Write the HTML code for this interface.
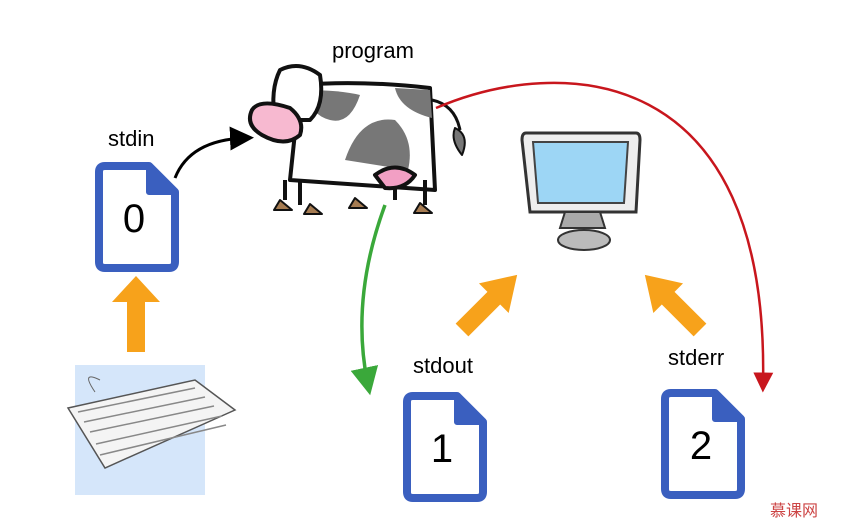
<!DOCTYPE html>
<html><head><style>
body{margin:0;background:#fff;}
svg{display:block;}
text{font-family:"Liberation Sans",sans-serif;}
</style></head><body>
<svg width="847" height="526" viewBox="0 0 847 526" xmlns="http://www.w3.org/2000/svg">
<defs>
<marker id="ab" markerWidth="8" markerHeight="8" refX="5" refY="4" orient="auto"><path d="M0,0 L8,4 L0,8 z" fill="#000"/></marker>
<marker id="ag" markerWidth="8" markerHeight="8" refX="5" refY="4" orient="auto"><path d="M0,0 L8,4 L0,8 z" fill="#3aa83a"/></marker>
<marker id="ar" markerWidth="8" markerHeight="8" refX="5" refY="4" orient="auto"><path d="M0,0 L8,4 L0,8 z" fill="#c8161d"/></marker>
<g id="file">
<path d="M6,0 H50 L76,26 V96 Q76,102 70,102 H6 Q0,102 0,96 V6 Q0,0 6,0 Z" fill="#fff" stroke="#3a5fbf" stroke-width="8" stroke-linejoin="round"/>
<path d="M50,0 L76,26 H50 Z" fill="#3a5fbf" stroke="#3a5fbf" stroke-width="6" stroke-linejoin="round"/>
</g>
</defs>
<text x="108" y="146" font-size="22">stdin</text>
<text x="332" y="58" font-size="22">program</text>
<text x="413" y="373" font-size="22">stdout</text>
<text x="668" y="365" font-size="22">stderr</text>
<use href="#file" x="99" y="166"/>
<text x="134" y="232" font-size="40" text-anchor="middle">0</text>
<use href="#file" x="407" y="396"/>
<text x="442" y="462" font-size="40" text-anchor="middle">1</text>
<use href="#file" x="665" y="393"/>
<text x="701" y="459" font-size="40" text-anchor="middle">2</text>
<rect x="75" y="365" width="130" height="130" fill="#d5e6fa"/>
<path d="M68,408 L195,380 L235,410 L105,468 Z" fill="#f4f4f4" stroke="#555" stroke-width="1.5"/>
<path d="M78,412 L195,388 M84,422 L205,397 M90,432 L214,406 M96,444 L222,416 M100,455 L226,425" stroke="#888" stroke-width="1.5"/>
<path d="M100,380 Q80,370 95,392" fill="none" stroke="#666"/>
<path d="M127,352 V302 H112 L136,276 L160,302 H145 V352 Z" fill="#f7a21b"/>
<g transform="translate(462,330) rotate(-45)"><path d="M0,-9 H45 V-21 L78,0 L45,21 V9 H0 Z" fill="#f7a21b"/></g>
<g transform="translate(700,330) rotate(-135)"><path d="M0,-9 H45 V-21 L78,0 L45,21 V9 H0 Z" fill="#f7a21b"/></g>
<path d="M526,133 H636 Q640,133 640,140 L636,212 H530 L522,140 Q522,133 526,133 Z" fill="#eee" stroke="#333" stroke-width="3"/>
<path d="M533,142 H628 L624,203 H538 Z" fill="#9dd6f5" stroke="#444" stroke-width="2"/>
<path d="M565,212 H600 L605,228 H560 Z" fill="#aaa" stroke="#333" stroke-width="2"/>
<ellipse cx="584" cy="240" rx="26" ry="10" fill="#bbb" stroke="#333" stroke-width="2"/>
<g stroke="#111" stroke-width="4" stroke-linejoin="round">
<path d="M300,85 Q360,80 430,88 L435,190 L290,180 Z" fill="#fff"/>
<path d="M305,90 Q340,90 360,95 Q350,125 330,120 Q310,115 305,90Z" fill="#777" stroke="none"/>
<path d="M395,88 L430,90 L432,118 Q400,110 395,88Z" fill="#777" stroke="none"/>
<path d="M345,160 Q360,115 395,120 Q415,140 408,170 Z" fill="#777" stroke="none"/>
<path d="M285,180 V200 M300,180 V205 M395,170 V200 M425,180 V205" fill="none"/>
<path d="M280,70 Q300,60 320,75 Q325,105 310,120 L275,120 Q270,90 280,70Z" fill="#fff"/>
<path d="M252,110 Q260,98 290,108 Q305,120 300,135 Q285,148 262,135 Q245,125 252,110Z" fill="#f7b9d0"/>
<path d="M375,175 Q395,160 415,175 Q405,190 385,188 Z" fill="#f29fc4"/>
<path d="M280,200 l-6,10 h18Z M310,204 l-6,10 h18Z M355,198 l-6,10 h18Z M420,203 l-6,10 h18Z" fill="#a67c52" stroke-width="2"/>
<path d="M432,100 Q455,105 460,130" fill="none" stroke-width="3"/>
<path d="M455,128 Q470,135 462,155 Q450,140 455,128Z" fill="#777" stroke-width="2"/>
</g>
<path d="M175,178 Q190,140 245,138" fill="none" stroke="#000" stroke-width="3" marker-end="url(#ab)"/>
<path d="M385,205 Q350,300 368,385" fill="none" stroke="#3aa83a" stroke-width="3.5" marker-end="url(#ag)"/>
<path d="M436,108 C560,55 770,60 763,385" fill="none" stroke="#c8161d" stroke-width="2.5" marker-end="url(#ar)"/>
<text x="770" y="516" font-size="16" fill="#c44">慕课网</text>
</svg>
</body></html>
